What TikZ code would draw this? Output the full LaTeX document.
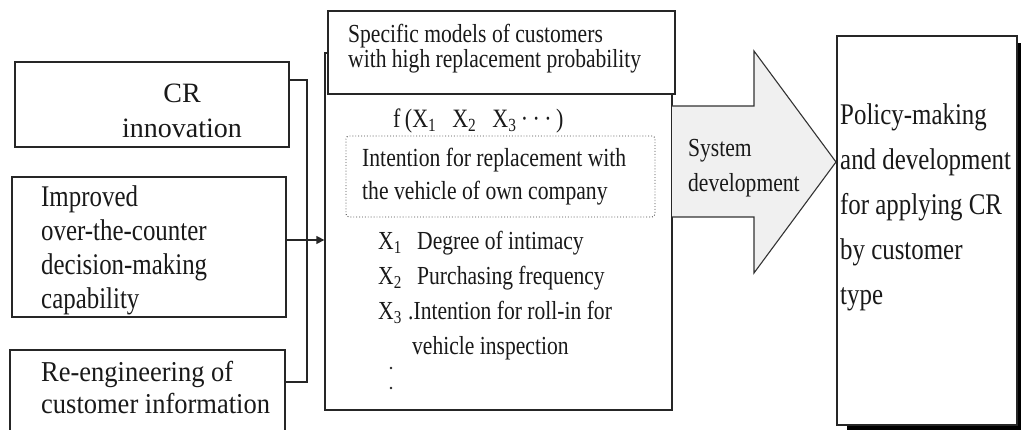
\documentclass[tikz,border=0pt]{standalone}
\usepackage{fontspec}
\setmainfont{Liberation Serif}
\newfontfamily\cond[FakeStretch=0.83]{Liberation Serif}
\newfontfamily\condb[FakeStretch=0.92]{Liberation Serif}
\usetikzlibrary{arrows.meta,fit}
\tikzset{
  box/.style={draw=black!85, line width=1.3pt, inner sep=0pt, fill=white},
  dotbox/.style={draw=black!70, dotted, line width=0.9pt, rounded corners=3pt, inner sep=0pt},
  txt/.style={inner sep=0pt, anchor=base west, text=black!90},
  txtc/.style={inner sep=0pt, anchor=base, text=black!90},
  conn/.style={draw=black!85, line width=1.3pt},
  bigarrow/.style={draw=black!80, line width=1.1pt, line join=miter},
  vdot/.style={circle, fill=black!85, inner sep=0pt, minimum size=2.6pt},
}
\newcommand{\fsz}[2]{\fontsize{#1}{#2}\selectfont}
\begin{document}
\begin{tikzpicture}[x=1pt,y=-1pt]
\useasboundingbox (0,0) rectangle (1021,430);
\clip (0,0) rectangle (1021,430);

% left boxes
\node[box, fit={(15,62) (289,147)}] (b1) {};
\node[box, fit={(12,177) (286,317)}] (b2) {};
\node[box, fit={(10,350) (285,440)}] (b3) {};

% middle box
\node[box, fit={(325,53) (672,410)}] (mid) {};
\node[box, fit={(328,11) (675,94)}] (top) {};
\node[dotbox, fit={(346,136) (655,217)}] (dot) {};

% big arrow
\coordinate (aL1) at (672,106);
\coordinate (aL2) at (672,217);
\node[inner sep=0pt] (tip) at (836,162) {};
\fill[black!6] (aL1) -- (754,106) -- (754,51) -- (tip.center) -- (754,273) -- (754,217) -- (aL2) -- cycle;
\draw[bigarrow] (aL1) -- (754,106) -- (754,51) -- (tip.center) -- (754,273) -- (754,217) -- (aL2);

% right box with shadow
\fill[black] (847,43) rectangle (1021,430);
\node[box, fit={(837,36) (1017,425)}] (right) {};

% connectors
\coordinate (bus1) at (307,80);
\coordinate (bus3) at (307,382);
\draw[conn] (b1.east |- bus1) -- (bus1) -- (bus3) -- (b3.east |- bus3);
\draw[conn, -{Triangle[length=8pt,width=8pt]}] (b2.east |- 0,240) -- (mid.west |- 0,240);

% texts left
\node[txtc, font=\fsz{28}{33}] (t1a) at (182,103) {CR};
\node[txtc, font=\fsz{28}{33}] (t1b) at (182,138) {innovation};

\node[txt, font=\cond\fsz{30}{34}] (t2a) at (41,207) {Improved};
\node[txt, font=\cond\fsz{30}{34}] (t2b) at (41,241) {over-the-counter};
\node[txt, font=\cond\fsz{30}{34}] (t2c) at (41,275) {decision-making};
\node[txt, font=\cond\fsz{30}{34}] (t2d) at (41,309) {capability};

\node[txt, font=\condb\fsz{28.8}{34}] (t3a) at (41,382) {Re-engineering of};
\node[txt, font=\condb\fsz{28.8}{34}] (t3b) at (41,414) {customer information};

% texts middle
\node[txt, font=\cond\fsz{26}{25}] (tt1) at (348,43) {Specific models of customers};
\node[txt, font=\cond\fsz{26}{25}] (tt2) at (348,68) {with high replacement probability};

\node[txt, font=\cond\fsz{26.5}{25}] (fx) at (393,128) {f\,(X\textsubscript{1}\hspace{16pt}X\textsubscript{2}\hspace{16pt}X\textsubscript{3}\,·\,·\,·\,)};

\node[txt, font=\cond\fsz{26.1}{33}] (d1) at (362,167) {Intention for replacement with};
\node[txt, font=\cond\fsz{26.1}{33}] (d2) at (362,200) {the vehicle of own company};

\node[txt, font=\cond\fsz{26}{35}] (x1) at (378,250) {X\textsubscript{1}};
\node[txt, font=\cond\fsz{26}{35}] (x1t) at (417,250) {Degree of intimacy};
\node[txt, font=\cond\fsz{26}{35}] (x2) at (378,285) {X\textsubscript{2}};
\node[txt, font=\cond\fsz{26}{35}] (x2t) at (417,285) {Purchasing frequency};
\node[txt, font=\cond\fsz{26}{35}] (x3) at (378,320) {X\textsubscript{3}};
\node[txt, font=\cond\fsz{26}{35}] (x3t) at (408,320) {.Intention for roll-in for};
\node[txt, font=\cond\fsz{26}{35}] (x3u) at (412,355) {vehicle inspection};
\node[vdot] (dots1) at (391,368) {};
\node[vdot] (dots2) at (391,388) {};

% arrow text
\node[txt, font=\cond\fsz{26}{35}] (s1) at (688,157) {System};
\node[txt, font=\cond\fsz{26}{35}] (s2) at (688,192) {development};

% right text
\node[txt, font=\cond\fsz{30}{45}] (r1) at (840,125) {Policy-making};
\node[txt, font=\cond\fsz{30}{45}] (r2) at (840,170) {and development};
\node[txt, font=\cond\fsz{30}{45}] (r3) at (840,215) {for applying CR};
\node[txt, font=\cond\fsz{30}{45}] (r4) at (840,260) {by customer};
\node[txt, font=\cond\fsz{30}{45}] (r5) at (840,305) {type};
\end{tikzpicture}
\end{document}
